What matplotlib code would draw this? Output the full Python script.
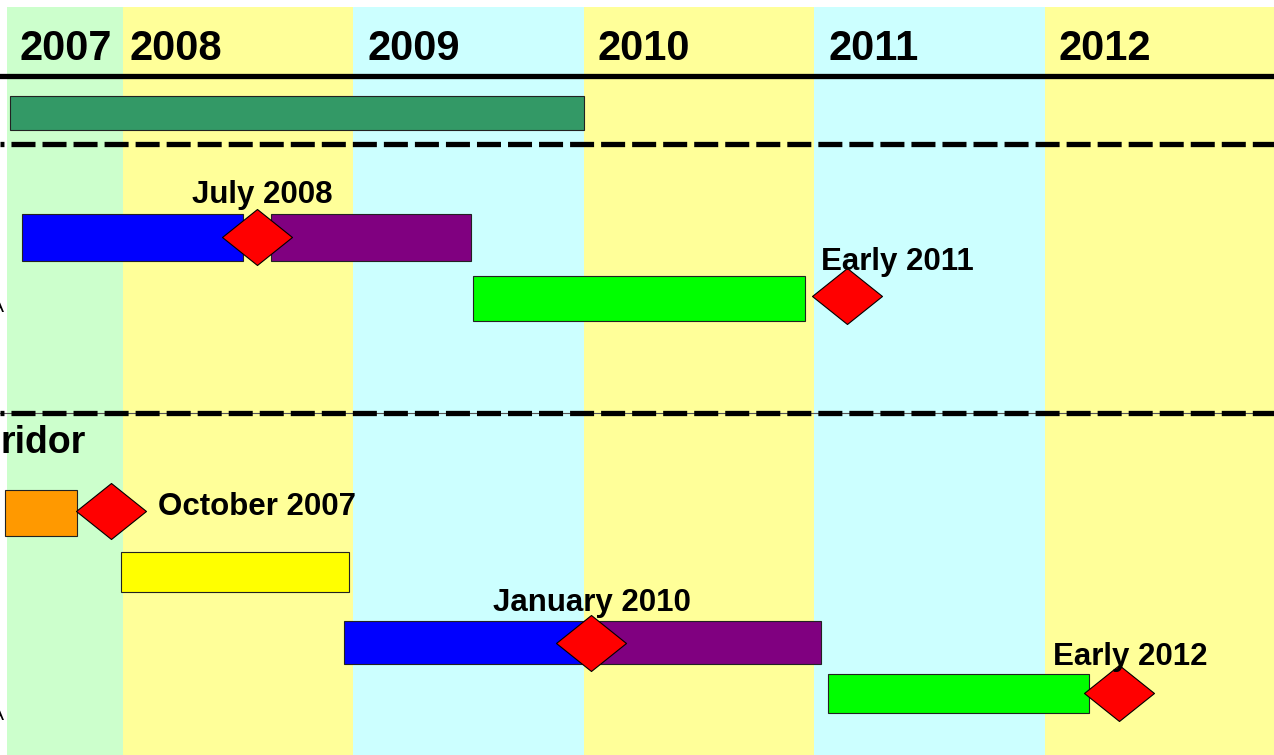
import numpy as np
import matplotlib.pyplot as plt
from matplotlib.path import Path

plt.rcParams['font.family'] = ['Liberation Sans', 'DejaVu Sans']

# year bands (timeline starts mid 2007)
years = [2007, 2008, 2009, 2010, 2011, 2012]
band_colors = ['#CCFFCC', '#FFFF99', '#CCFFFF', '#FFFF99', '#CCFFFF', '#FFFF99']
t_start, t_end = 2007.497, 2012.993

# bars: start year, end year, colour, row (pixel rows of the slide)
bar_start = [2007.51, 2007.56, 2008.64, 2009.52, 2007.49, 2007.99, 2008.96, 2010.03, 2011.06]
bar_end   = [2010.00, 2008.52, 2009.51, 2010.96, 2007.80, 2008.98, 2010.03, 2011.03, 2012.19]
bar_color = ['#339966', '#0000FF', '#800080', '#00FF00', '#FF9900', '#FFFF00', '#0000FF', '#800080', '#00FF00']
bar_row   = [113, 237.5, 237.5, 298.5, 513, 572, 642.5, 642.5, 693.5]
bar_h     = [34, 47, 47, 45, 46, 40, 43, 43, 39]

# milestones
ms_date  = [2008.58, 2011.14, 2007.95, 2010.03, 2012.32]
ms_row   = [237, 296, 511, 643, 693]
ms_label = ['July 2008', 'Early 2011', 'October 2007', 'January 2010', 'Early 2012']
lab_date = [2008.30, 2011.03, 2008.15, 2009.605, 2012.035]
lab_row  = [203, 270, 515, 611, 665]

x_left = 2007.4664
px = 1 / 230.5  # one slide pixel in years

fig = plt.figure(figsize=(12.74, 7.55), dpi=100)
ax = fig.add_axes([0, 0, 1, 1])
ax.set_xlim(x_left, 2012.9935)
ax.set_ylim(755, 0)
ax.axis('off')

# background bands
for y, c in zip(years, band_colors):
    left = max(y, t_start)
    right = min(y + 1, t_end)
    ax.bar(left, 748, width=right - left, bottom=7, align='edge', color=c, zorder=0)
    pad = 0.06 if y > 2008 else (0.03 if y == 2008 else 0.055)
    ax.text(left + pad, 60, str(y), fontsize=30, fontweight='bold',
            va='baseline', ha='left', zorder=5)

# header / section lines
ax.axhline(76, color='black', lw=3.8, zorder=2)
ax.axhline(413, color='#555555', lw=0.8, zorder=2)
for yy in [144, 413]:
    ax.axhline(yy, color='black', lw=3.8, linestyle=(3.8, (4.55, 1.33)), zorder=2)

# bars
for s, e, c, r, h in zip(bar_start, bar_end, bar_color, bar_row, bar_h):
    ax.barh(r, e - s, left=s, height=h, color=c, edgecolor='#222222', lw=0.8, zorder=3)

# diamond milestones
diamond = Path([(-1, 0), (0, 0.8), (1, 0), (0, -0.8), (-1, 0)],
               [Path.MOVETO, Path.LINETO, Path.LINETO, Path.LINETO, Path.CLOSEPOLY])
ax.scatter(ms_date, ms_row, marker=diamond, s=2540, color='#FF0000',
           edgecolor='black', linewidth=0.8, zorder=4)

for d, r, t in zip(lab_date, lab_row, ms_label):
    ax.text(d, r, t, fontsize=22.5, fontweight='bold', va='baseline', ha='left', zorder=5)

# slide labels cut at the left edge
ax.text(x_left, 453, 'ridor', fontsize=27, fontweight='bold',
        ha='left', va='baseline', zorder=5)
for r in [312, 720]:
    ax.text(x_left + 4 * px, r, 'A', fontsize=14, ha='right', va='baseline', zorder=5)

fig.savefig('out.png', dpi=100)
